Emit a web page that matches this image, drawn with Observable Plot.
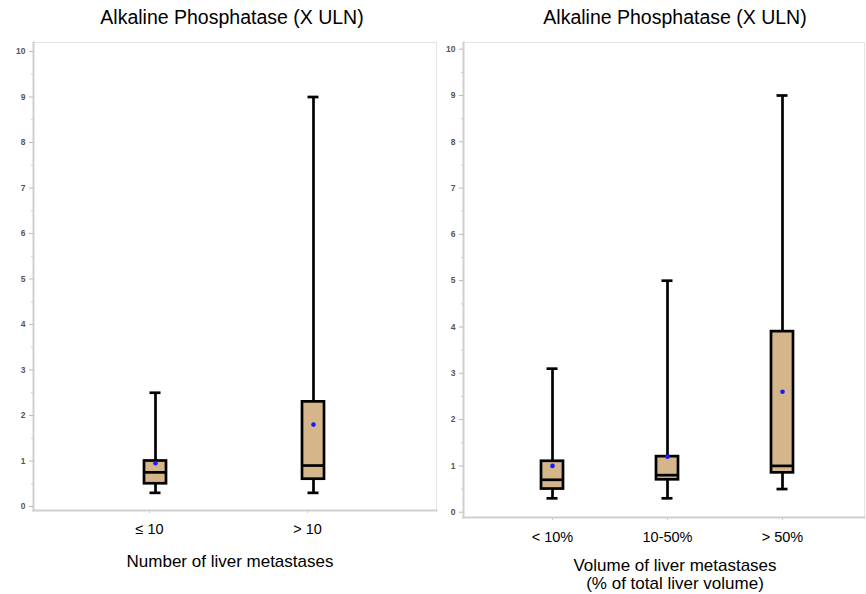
<!DOCTYPE html>
<html>
<head>
<meta charset="utf-8">
<script src="https://cdn.jsdelivr.net/npm/d3@7"></script>
<script src="https://cdn.jsdelivr.net/npm/@observablehq/plot@0.6"></script>
<style>
  html, body { margin: 0; padding: 0; background: #fff; }
  #wrap { position: relative; width: 866px; height: 594px; font-family: "Liberation Sans", Arial, sans-serif; overflow: hidden; }
  .p { position: absolute; top: 0; }
  .t { position: absolute; white-space: nowrap; color: #000; transform: translateX(-50%); text-align: center; }
</style>
</head>
<body>
<div id="wrap"></div>
<script>
// Panel 1: Number of liver metastases
const groups1 = ["≤ 10", "> 10"];
const min1 = [0.3, 0.3];
const q1_1 = [0.5, 0.6];
const med1 = [0.75, 0.9];
const q3_1 = [1.0, 2.3];
const max1 = [2.5, 9.0];
const mean1 = [0.95, 1.8];

// Panel 2: Volume of liver metastases
const groups2 = ["< 10%", "10-50%", "> 50%"];
const min2 = [0.3, 0.3, 0.5];
const q1_2 = [0.5, 0.7, 0.85];
const med2 = [0.7, 0.8, 1.0];
const q3_2 = [1.1, 1.2, 3.9];
const max2 = [3.1, 5.0, 9.0];
const mean2 = [1.0, 1.2, 2.6];

const yTicks = [0, 1, 2, 3, 4, 5, 6, 7, 8, 9, 10];
const yMinor = [0.5, 1.5, 2.5, 3.5, 4.5, 5.5, 6.5, 7.5, 8.5, 9.5];

const title = "Alkaline Phosphatase (X ULN)";
const xTitle1 = ["Number of liver metastases"];
const xTitle2 = ["Volume of liver metastases", "(% of total liver volume)"];

function rows(g, mn, a, m, b, mx, mean) {
  return g.map((k, i) => ({g: k, min: mn[i], q1: a[i], med: m[i], q3: b[i], max: mx[i], mean: mean[i]}));
}

const FILL = "#d5b68a";

function panel(data, groups, o) {
  return Plot.plot({
    width: o.width,
    height: 594,
    marginLeft: o.ml,
    marginRight: o.mr,
    marginTop: 42,
    marginBottom: o.mb,
    style: {background: "transparent", fontFamily: "Liberation Sans, Arial, sans-serif"},
    x: {type: "band", domain: groups, range: o.xr, paddingInner: o.pi, paddingOuter: o.pi / 2},
    y: {domain: [0, 10], range: o.yr},
    marks: [
      Plot.frame({stroke: "#e4e4e4", strokeWidth: 1}),
      Plot.frame({anchor: "left", stroke: "#cfcfcf", strokeWidth: 2}),
      Plot.frame({anchor: "bottom", stroke: "#cfcfcf", strokeWidth: 2}),
      Plot.axisY({ticks: yTicks, tickSize: 4, tickPadding: 4, fontSize: 8.5, fontWeight: "bold", fill: "#555", stroke: "#bbb", label: null, tickFormat: d3.format("d")}),
      Plot.axisY({ticks: yMinor, tickSize: 2, text: null, stroke: "#ccc", label: null}),
      Plot.axisX({tickSize: 3, tickPadding: o.tp, fontSize: 14.5, stroke: "#ccc", fill: "#000", label: null, dx: o.dx}),
      Plot.ruleX(data, {x: "g", y1: "min", y2: "max", stroke: "#000", strokeWidth: 2.7}),
      Plot.tickY(data, {x: "g", y: "max", stroke: "#000", strokeWidth: 2.7, insetLeft: 5.5, insetRight: 5.5}),
      Plot.tickY(data, {x: "g", y: "min", stroke: "#000", strokeWidth: 2.7, insetLeft: 5.5, insetRight: 5.5}),
      Plot.barY(data, {x: "g", y1: "q1", y2: "q3", fill: FILL, stroke: "#000", strokeWidth: 2.7}),
      Plot.tickY(data, {x: "g", y: "med", stroke: "#000", strokeWidth: 2.7}),
      Plot.dot(data, {x: "g", y: "mean", r: 2.3, fill: "#1a1aff", stroke: "none"})
    ]
  });
}

const wrap = document.getElementById("wrap");

const p1 = panel(rows(groups1, min1, q1_1, med1, q3_1, max1, mean1), groups1, {
  width: 440, ml: 33, mr: 4, mb: 84, xr: [76, 392], pi: 0.86, yr: [506, 51], dx: -6, tp: 10
});
p1.classList.add("p"); p1.style.left = "0px";
wrap.appendChild(p1);

const p2 = panel(rows(groups2, min2, q1_2, med2, q3_2, max2, mean2), groups2, {
  width: 426, ml: 23, mr: 2, mb: 77, xr: [54.5, 399.5], pi: 0.81, yr: [511.7, 48.7], dx: 0, tp: 11
});
p2.classList.add("p"); p2.style.left = "440px";
wrap.appendChild(p2);

function addText(txt, x, y, size) {
  const d = document.createElement("div");
  d.className = "t";
  d.textContent = txt;
  d.style.left = x + "px";
  d.style.top = y + "px";
  d.style.fontSize = size + "px";
  d.style.lineHeight = "1";
  wrap.appendChild(d);
}
addText(title, 232, 8, 19.5);
addText(title, 675, 8, 19.5);
addText(xTitle1[0], 230, 553, 17);
addText(xTitle2[0], 675, 557, 17);
addText(xTitle2[1], 675, 575, 17);
</script>
</body>
</html>
